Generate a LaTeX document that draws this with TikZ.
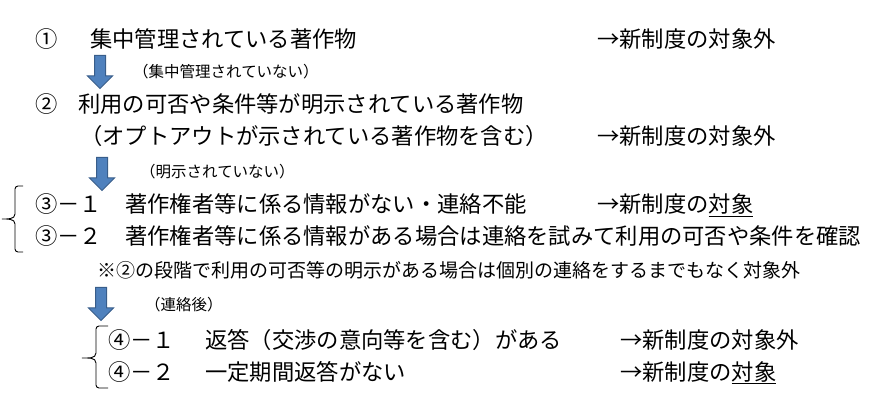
\documentclass[tikz,border=0pt]{standalone}
\usepackage{fontspec}
\newfontfamily\jp{Noto Sans CJK JP}
\usetikzlibrary{shapes.arrows}
\definecolor{arrowfill}{HTML}{4F81BD}
\definecolor{arrowedge}{HTML}{385D8A}
\begin{document}
\begin{tikzpicture}[x=1pt,y=-1pt,
    txt/.style={anchor=west,inner sep=0,font=\jp\fontsize{22.3}{26}\selectfont,text height=18pt,text depth=2pt},
    note/.style={anchor=west,inner sep=0,font=\jp\fontsize{15.5}{18}\selectfont,text height=12.5pt,text depth=1.5pt},
    remark/.style={anchor=west,inner sep=0,font=\jp\fontsize{19}{22}\selectfont,text height=15.5pt,text depth=1.5pt},
    bigarrow/.style={single arrow,rotate=-90,anchor=tail,draw=arrowedge,fill=arrowfill,line width=1pt,
      inner xsep=0pt,inner ysep=5pt,minimum height=33pt,single arrow head extend=7pt,single arrow head indent=0pt},
    bracket/.style={line width=.9pt}]
    \useasboundingbox (0,0) rectangle (884,414);
    \node[txt] (lab1) at (35,40) {①};
    \node[txt] (row1) at (90,40) {集中管理されている著作物};
    \node[txt] (res1) at (597,40) {→新制度の対象外};
    \node[bigarrow] (a1) at (100,55) {};
    \node[note] (m1) at (133,72) {（集中管理されていない）};
    \node[txt] (lab2) at (35,105) {②};
    \node[txt] (row2) at (78,105) {利用の可否や条件等が明示されている著作物};
    \node[txt] (row2b) at (80,137) {（オプトアウトが示されている著作物を含む）};
    \node[txt] (res2) at (597,137) {→新制度の対象外};
    \node[bigarrow] (a2) at (102,157) {};
    \node[note] (m2) at (140,172) {（明示されていない）};
    \node[txt] (lab31) at (35,205) {③－１};
    \node[txt] (row31) at (125,205) {著作権者等に係る情報がない・連絡不能};
    \node[txt] (res31) at (597,205) {→新制度の\underline{対象}};
    \node[txt] (lab32) at (35,237) {③－２};
    \node[txt] (row32) at (125,237) {著作権者等に係る情報がある場合は連絡を試みて利用の可否や条件を確認};
    \node[remark] (m3) at (97,270) {※②の段階で利用の可否等の明示がある場合は個別の連絡をするまでもなく対象外};
    \node[bigarrow] (a3) at (101,287) {};
    \node[note] (m4) at (145,305) {（連絡後）};
    \node[txt] (lab41) at (108,340) {④－１};
    \node[txt] (row41) at (205,340) {返答（交渉の意向等を含む）がある};
    \node[txt] (res41) at (620,340) {→新制度の対象外};
    \node[txt] (lab42) at (108,372) {④－２};
    \node[txt] (row42) at (205,372) {一定期間返答がない};
    \node[txt] (res42) at (620,372) {→新制度の\underline{対象}};
    % braces
    \draw[bracket] (23,186) -- (18,186) to[out=180,in=90] (15,189) -- (15,214)
          to[out=-90,in=0] (2,219) to[out=0,in=90] (15,224) -- (15,249)
          to[out=-90,in=180] (18,252) -- (23,252);
    \draw[bracket] (108,326) -- (99,326) to[out=180,in=90] (96,329) -- (96,353)
          to[out=-90,in=0] (82,358) to[out=0,in=90] (96,363) -- (96,385)
          to[out=-90,in=180] (99,388) -- (108,388);
\end{tikzpicture}
\end{document}
